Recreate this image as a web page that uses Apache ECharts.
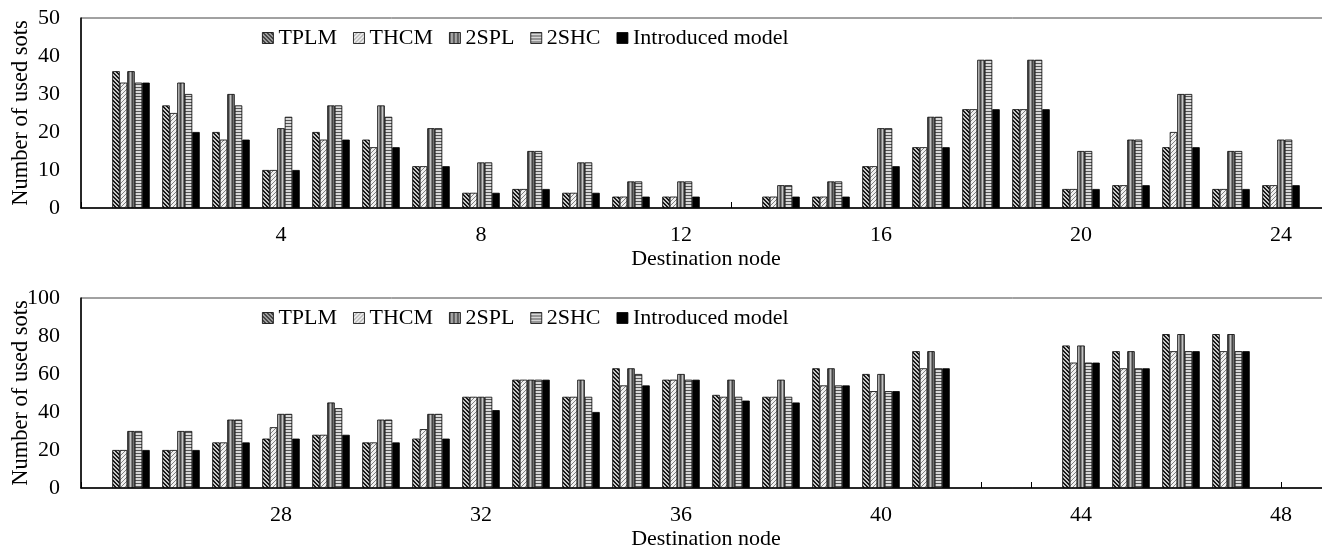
<!DOCTYPE html>
<html>
<head>
<meta charset="utf-8">
<script src="https://cdn.jsdelivr.net/npm/echarts@6/dist/echarts.min.js"></script>
<style>
  html, body { margin: 0; padding: 0; background: #fff; }
  #container { width: 1322px; height: 547px; }
</style>
</head>
<body>
<div id="container"></div>
<script>
// node numbers on each axis (first and last are the empty ends of the axis)
var topNodes = [0,1,2,3,4,5,6,7,8,9,10,11,12,13,14,15,16,17,18,19,20,21,22,23,24,25];
var bottomNodes = [24,25,26,27,28,29,30,31,32,33,34,35,36,37,38,39,40,41,42,43,44,45,46,47,48,49];
var seriesNames = ['TPLM', 'THCM', '2SPL', '2SHC', 'Introduced model'];

// top chart, nodes 0..25
var topTPLM  = [null,36,27,20,10,20,18,11,4,5,4,3,3,null,3,3,11,16,26,26,5,6,16,5,6,null];
var topTHCM  = [null,33,25,18,10,18,16,11,4,5,4,3,3,null,3,3,11,16,26,26,5,6,20,5,6,null];
var top2SPL  = [null,36,33,30,21,27,27,21,12,15,12,7,7,null,6,7,21,24,39,39,15,18,30,15,18,null];
var top2SHC  = [null,33,30,27,24,27,24,21,12,15,12,7,7,null,6,7,21,24,39,39,15,18,30,15,18,null];
var topIntro = [null,33,20,18,10,18,16,11,4,5,4,3,3,null,3,3,11,16,26,26,5,6,16,5,6,null];

// bottom chart, nodes 24..49
var botTPLM  = [null,20,20,24,26,28,24,26,48,57,48,63,57,49,48,63,60,72,null,null,75,72,81,81,null,null];
var botTHCM  = [null,20,20,24,32,28,24,31,48,57,48,54,57,48,48,54,51,63,null,null,66,63,72,72,null,null];
var bot2SPL  = [null,30,30,36,39,45,36,39,48,57,57,63,60,57,57,63,60,72,null,null,75,72,81,81,null,null];
var bot2SHC  = [null,30,30,36,39,42,36,39,48,57,48,60,57,48,48,54,51,63,null,null,66,63,72,72,null,null];
var botIntro = [null,20,20,24,26,28,24,26,41,57,40,54,57,46,45,54,51,63,null,null,66,63,72,72,null,null];

var topTicks = [0, 10, 20, 30, 40, 50];
var bottomTicks = [0, 20, 40, 60, 80, 100];

var FONT = 'Liberation Serif';

function makePattern(kind) {
    var c = document.createElement('canvas');
    var ctx;
    if (kind === 'tplm') {
        c.width = 4; c.height = 4;
        ctx = c.getContext('2d');
        ctx.fillStyle = '#c8c8c8'; ctx.fillRect(0, 0, 4, 4);
        ctx.fillStyle = '#1a1a1a';
        for (var i = 0; i < 4; i++) { ctx.fillRect(i, i, 1, 1); ctx.fillRect((i + 1) % 4, i, 1, 1); }
    } else if (kind === 'thcm') {
        c.width = 4; c.height = 4;
        ctx = c.getContext('2d');
        ctx.fillStyle = '#f0f0f0'; ctx.fillRect(0, 0, 4, 4);
        ctx.fillStyle = '#808080';
        for (var j = 0; j < 4; j++) { ctx.fillRect(3 - j, j, 1, 1); }
    } else if (kind === '2spl') {
        c.width = 4; c.height = 4;
        ctx = c.getContext('2d');
        ctx.fillStyle = '#444'; ctx.fillRect(0, 0, 1, 4);
        ctx.fillStyle = '#808080'; ctx.fillRect(1, 0, 1, 4);
        ctx.fillStyle = '#c4c4c4'; ctx.fillRect(2, 0, 1, 4);
        ctx.fillStyle = '#808080'; ctx.fillRect(3, 0, 1, 4);
    } else {
        c.width = 4; c.height = 3;
        ctx = c.getContext('2d');
        ctx.fillStyle = '#d8d8d8'; ctx.fillRect(0, 0, 4, 3);
        ctx.fillStyle = '#555'; ctx.fillRect(0, 0, 4, 1);
    }
    return { image: c, repeat: 'repeat' };
}

var fills = [makePattern('tplm'), makePattern('thcm'), makePattern('2spl'), makePattern('2shc'), '#000'];

var dom = document.getElementById('container');
var myChart = echarts.init(dom, null, { renderer: 'canvas' });

function xAxisFor(gridIndex, nodes) {
    return {
        type: 'category',
        gridIndex: gridIndex,
        data: nodes,
        boundaryGap: false,
        name: 'Destination node',
        nameLocation: 'middle',
        nameGap: 40,
        nameMoveOverlap: false,
        nameTextStyle: { fontFamily: FONT, fontSize: 22, color: '#000' },
        axisLine: { lineStyle: { color: '#000', width: 1.5 } },
        axisTick: { show: true, inside: true, length: 6, interval: 0, lineStyle: { color: '#000', width: 1 } },
        axisLabel: {
            interval: function (index) { return index > 0 && index % 4 === 0; },
            margin: 16,
            fontFamily: FONT, fontSize: 22, color: '#000'
        },
        splitLine: { show: false }
    };
}

function yAxisFor(gridIndex, ticks) {
    return {
        type: 'value',
        gridIndex: gridIndex,
        min: ticks[0],
        max: ticks[ticks.length - 1],
        interval: ticks[1] - ticks[0],
        name: 'Number of used sots',
        nameLocation: 'middle',
        nameGap: 48,
        nameMoveOverlap: false,
        nameTextStyle: { fontFamily: FONT, fontSize: 22.5, color: '#000' },
        axisLine: { show: true, lineStyle: { color: '#000', width: 1.5 } },
        axisTick: { show: false },
        axisLabel: { margin: 21, fontFamily: FONT, fontSize: 22, color: '#000' },
        splitLine: { show: false }
    };
}

function barSeries(name, idx, gridIdx, data) {
    return {
        name: name,
        type: 'bar',
        xAxisIndex: gridIdx,
        yAxisIndex: gridIdx,
        data: data,
        barWidth: 7.5,
        barGap: '0%',
        itemStyle: { color: fills[idx], borderColor: '#000', borderWidth: 0.8 },
        emphasis: { disabled: true }
    };
}

function legendFor(top) {
    return {
        data: seriesNames,
        left: 262,
        top: top,
        padding: 0,
        itemWidth: 11,
        itemHeight: 11,
        itemGap: 16,
        icon: 'rect',
        textStyle: { fontFamily: FONT, fontSize: 22, color: '#000', padding: [2, 0, 0, 0] },
        itemStyle: { borderColor: '#000', borderWidth: 0.8 }
    };
}

var topData = [topTPLM, topTHCM, top2SPL, top2SHC, topIntro];
var botData = [botTPLM, botTHCM, bot2SPL, bot2SHC, botIntro];
var series = [];
seriesNames.forEach(function (n, i) { series.push(barSeries(n, i, 0, topData[i])); });
seriesNames.forEach(function (n, i) { series.push(barSeries(n, i, 1, botData[i])); });

var option = {
    backgroundColor: '#fff',
    animation: false,
    legend: [legendFor(27), legendFor(307)],
    grid: [
        { left: 81, right: -9, top: 18, height: 190, show: true, borderColor: '#444', borderWidth: 1,
          containLabel: false, outerBoundsMode: 'none' },
        { left: 81, right: -9, top: 298, height: 190, show: true, borderColor: '#444', borderWidth: 1,
          containLabel: false, outerBoundsMode: 'none' }
    ],
    xAxis: [xAxisFor(0, topNodes), xAxisFor(1, bottomNodes)],
    yAxis: [yAxisFor(0, topTicks), yAxisFor(1, bottomTicks)],
    series: series
};

myChart.setOption(option);

window.addEventListener('resize', function () {
    myChart.resize();
});
</script>
</body>
</html>
